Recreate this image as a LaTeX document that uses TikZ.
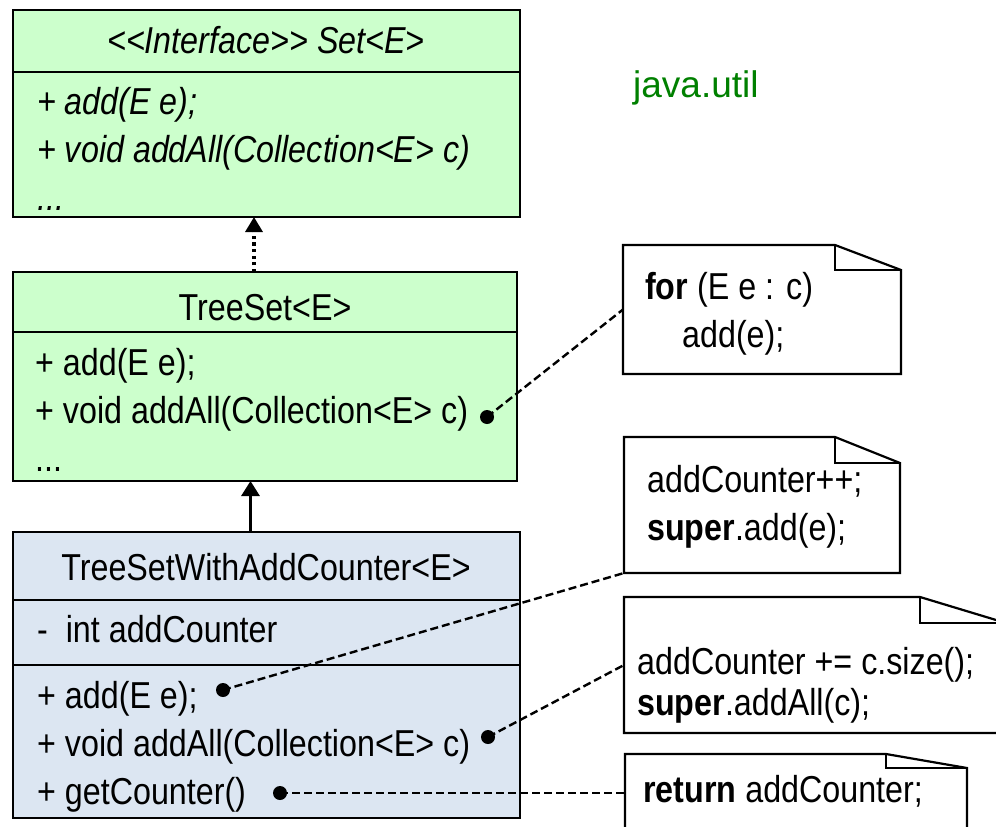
\documentclass[tikz,border=0pt]{standalone}
\usepackage{fontspec}
\setmainfont[FakeStretch=0.86,Ligatures=TeXOff]{Liberation Sans}
\newfontfamily\pkgfont{Liberation Sans}
\usetikzlibrary{arrows.meta,positioning,calc}
\definecolor{ifacegreen}{RGB}{204,255,204}
\definecolor{classblue}{RGB}{220,230,242}
\definecolor{pkggreen}{RGB}{0,128,0}
\newcommand{\umlfont}{\fontsize{37.5}{48}\selectfont}

\begin{document}
\begin{tikzpicture}[x=1pt,y=-1pt,
  cls/.style={draw,line width=2.8pt,inner sep=0pt,outer sep=0pt,minimum width=507pt},
  txt/.style={anchor=base west,align=left,inner sep=0pt,font=\umlfont},
  notebox/.style={inner sep=0pt,outer sep=0pt,anchor=north west},
  notelink/.style={line width=2.4pt,dash pattern=on 8pt off 4pt},
  realize/.style={-{Triangle[length=15pt,width=17pt]},line width=3.3pt,dash pattern=on 3.3pt off 3.3pt},
  inherit/.style={-{Triangle[length=15pt,width=18pt]},line width=3pt}]
\useasboundingbox (0,0) rectangle (996,827);
\clip (0,0) rectangle (996,827);

% Set<E>
\node[cls,fill=ifacegreen,minimum height=62pt,anchor=north west] (set) at (13,10) {};
\node[cls,fill=ifacegreen,minimum height=145pt,below=0pt of set] (setops) {};
\node[txt,anchor=base,font=\umlfont\itshape] (settitle) at (266,53) {<<Interface>> Set<E>};
% (multi-line texts: base is the last line)
\node[txt,font=\umlfont\itshape] (setopstext) at (37,210) {+ add(E e);\\+ void addAll(Collection<E> c)\\...};

% TreeSet<E>
\node[cls,fill=ifacegreen,minimum width=504pt,minimum height=60pt,anchor=north west] (treeset) at (13,272) {};
\node[cls,fill=ifacegreen,minimum width=504pt,minimum height=149pt,below=0pt of treeset] (treesetops) {};
\node[txt,anchor=base] (treesettitle) at (265,320) {TreeSet<E>};
\node[txt] (treesetopstext) at (35,471) {+ add(E e);\\+ void addAll(Collection<E> c)\\...};

% TreeSetWithAddCounter<E>
\node[cls,fill=classblue,minimum height=68pt,anchor=north west] (counter) at (13,532) {};
\node[cls,fill=classblue,minimum height=65pt,below=0pt of counter] (counterattr) {};
\node[cls,fill=classblue,minimum height=153pt,below=0pt of counterattr] (counterops) {};
\node[txt,anchor=base] (countertitle) at (266,580) {TreeSetWithAddCounter<E>};
\node[txt] (counterattrtext) at (37,642) {-~~int addCounter};
\node[txt] (counteropstext) at (37,804) {+ add(E e);\\+ void addAll(Collection<E> c)\\+ getCounter()};

\draw[realize] ([xshift=-11pt]treeset.north) -- ([xshift=-11pt]treeset.north |- setops.south);
\draw[inherit] ([xshift=-16pt]counter.north) -- ([xshift=-16pt]counter.north |- treesetops.south);

\node[anchor=base west,inner sep=0pt,font=\pkgfont\fontsize{37}{44}\selectfont,text=pkggreen] (pkg) at (633,97) {java.util};

% notes
\node[notebox,minimum width=278pt,minimum height=129pt] (forloop) at (623,245) {};
\node[notebox,minimum width=276pt,minimum height=136pt] (addnote) at (624,437) {};
\node[notebox,minimum width=382pt,minimum height=136pt] (addallnote) at (624,597) {};
\node[notebox,minimum width=342pt,minimum height=78pt] (getnote) at (625,754) {};
\foreach \n/\fw/\fh in {forloop/66/25,addnote/65/26,addallnote/86/26,getnote/81/14}{
  \draw[line width=2.2pt] (\n.south west) -- (\n.north west) -- ([xshift=-\fw]\n.north east)
    -- ($(\n.north east)+(0,\fh)$) -- (\n.south east) -- cycle;
  \draw[line width=2.2pt] ([xshift=-\fw]\n.north east) |- ($(\n.north east)+(0,\fh)$);
}
\node[txt] (forlooptext) at (645,347) {\textbf{for} (E e : c)\\\hspace*{37pt}add(e);};
\node[txt] (addnotetext) at (647,540) {addCounter++;\\\textbf{super}.add(e);};
\node[txt,font=\fontsize{37.5}{41}\selectfont] (addallnotetext) at (637,715) {addCounter += c.size();\\\textbf{super}.addAll(c);};
\node[txt] (getnotetext) at (643,802) {\textbf{return} addCounter;};

% links from methods to notes
\coordinate (treesetaddall) at (487,417);
\coordinate (counteradd) at (223,690);
\coordinate (counteraddall) at (488,737);
\coordinate (countergetter) at (280,793);
\foreach \c in {treesetaddall,counteradd,counteraddall,countergetter}
  \fill (\c) circle (7pt);
\draw[notelink] (treesetaddall) -- (forloop.west);
\draw[notelink] (counteradd) -- (addnote.south west);
\draw[notelink] (counteraddall) -- (addallnote.west);
\draw[notelink] (countergetter) -- (getnote.west);
\end{tikzpicture}
\end{document}
